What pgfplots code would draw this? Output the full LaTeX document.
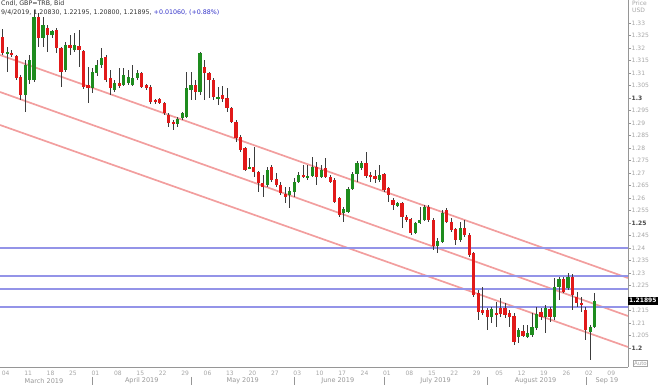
\documentclass[border=0pt]{standalone}
\usepackage{fontspec}
\setmainfont{DejaVu Sans}
\usepackage{pgfplots}
\pgfplotsset{compat=1.18}
\usepackage{pgfplotstable}
\definecolor{upg}{RGB}{30,140,30}
\definecolor{dnr}{RGB}{225,25,25}
\definecolor{wick}{RGB}{60,60,60}
\definecolor{chan}{RGB}{242,158,158}
\definecolor{lev}{RGB}{148,148,232}
\definecolor{tl}{RGB}{165,165,165}
\definecolor{td}{RGB}{70,70,70}
\definecolor{ax}{RGB}{150,150,150}
\definecolor{hdr}{RGB}{50,50,50}
\definecolor{hblue}{RGB}{50,50,200}
\definecolor{mc}{RGB}{150,150,150}
\newcommand{\tf}{\fontsize{6}{7}\selectfont}
\newcommand{\hf}{\fontsize{6.3}{7}\selectfont}
\newcommand{\mf}{\fontsize{6.5}{7}\selectfont}

\pgfplotstableread{
t o h l c
1 1.3244 1.3276 1.3172 1.3180
2 1.3180 1.3204 1.3104 1.3184
3 1.3180 1.3192 1.3164 1.3172
4 1.3168 1.3172 1.3072 1.3080
5 1.3084 1.3092 1.2992 1.3012
6 1.3012 1.3152 1.2944 1.3132
7 1.3072 1.3172 1.3056 1.3152
8 1.3072 1.3352 1.3064 1.3324
9 1.3324 1.3340 1.3204 1.3240
10 1.3240 1.3324 1.3204 1.3292
11 1.3280 1.3292 1.3184 1.3252
12 1.3252 1.3272 1.3240 1.3268
13 1.3272 1.3280 1.3180 1.3200
14 1.3200 1.3204 1.3044 1.3104
15 1.3112 1.3224 1.3104 1.3212
16 1.3212 1.3252 1.3172 1.3200
17 1.3192 1.3260 1.3184 1.3212
18 1.3208 1.3272 1.3124 1.3192
19 1.3188 1.3192 1.3036 1.3044
20 1.3052 1.3124 1.2980 1.3040
21 1.3040 1.3120 1.3020 1.3104
22 1.3100 1.3152 1.3088 1.3132
23 1.3132 1.3200 1.3120 1.3160
24 1.3164 1.3172 1.3064 1.3072
25 1.3080 1.3112 1.3012 1.3040
26 1.3032 1.3072 1.3024 1.3060
27 1.3060 1.3120 1.3040 1.3048
28 1.3052 1.3120 1.3048 1.3092
29 1.3060 1.3112 1.3052 1.3084
30 1.3052 1.3132 1.3048 1.3080
31 1.3080 1.3112 1.3072 1.3100
32 1.3100 1.3104 1.3040 1.3044
33 1.3052 1.3056 1.3032 1.3040
34 1.3044 1.3052 1.2976 1.2984
35 1.2992 1.2996 1.2976 1.2984
36 1.2996 1.3000 1.2976 1.2980
37 1.2980 1.2984 1.2932 1.2940
38 1.2932 1.2940 1.2884 1.2900
39 1.2904 1.2912 1.2872 1.2896
40 1.2896 1.2924 1.2884 1.2916
41 1.2920 1.2944 1.2912 1.2940
42 1.2924 1.3104 1.2920 1.3040
43 1.3032 1.3104 1.2992 1.3052
44 1.3052 1.3072 1.2992 1.3024
45 1.3024 1.3184 1.3012 1.3180
46 1.3124 1.3152 1.2992 1.3100
47 1.3100 1.3104 1.3000 1.3072
48 1.3072 1.3080 1.2992 1.3004
49 1.3000 1.3044 1.2972 1.3004
50 1.3012 1.3048 1.2984 1.2996
51 1.3000 1.3040 1.2944 1.2960
52 1.2960 1.2964 1.2900 1.2904
53 1.2904 1.2912 1.2824 1.2840
54 1.2844 1.2852 1.2784 1.2792
55 1.2800 1.2804 1.2708 1.2712
56 1.2720 1.2760 1.2716 1.2724
57 1.2724 1.2804 1.2684 1.2704
58 1.2704 1.2708 1.2624 1.2660
59 1.2660 1.2692 1.2604 1.2644
60 1.2652 1.2724 1.2644 1.2712
61 1.2724 1.2732 1.2664 1.2672
62 1.2676 1.2700 1.2644 1.2652
63 1.2652 1.2664 1.2612 1.2620
64 1.2616 1.2644 1.2580 1.2604
65 1.2612 1.2644 1.2560 1.2628
66 1.2624 1.2680 1.2604 1.2664
67 1.2664 1.2704 1.2660 1.2692
68 1.2692 1.2732 1.2680 1.2684
69 1.2684 1.2732 1.2672 1.2688
70 1.2688 1.2764 1.2684 1.2724
71 1.2724 1.2744 1.2652 1.2684
72 1.2684 1.2732 1.2680 1.2712
73 1.2720 1.2760 1.2680 1.2684
74 1.2684 1.2692 1.2660 1.2664
75 1.2672 1.2680 1.2580 1.2584
76 1.2600 1.2604 1.2524 1.2532
77 1.2540 1.2564 1.2504 1.2556
78 1.2544 1.2644 1.2540 1.2636
79 1.2636 1.2704 1.2632 1.2696
80 1.2696 1.2748 1.2664 1.2740
81 1.2720 1.2748 1.2712 1.2740
82 1.2740 1.2784 1.2680 1.2688
83 1.2692 1.2704 1.2664 1.2684
84 1.2688 1.2712 1.2660 1.2676
85 1.2672 1.2732 1.2664 1.2692
86 1.2696 1.2700 1.2624 1.2632
87 1.2640 1.2644 1.2584 1.2612
88 1.2592 1.2600 1.2552 1.2572
89 1.2568 1.2584 1.2564 1.2580
90 1.2580 1.2584 1.2480 1.2524
91 1.2524 1.2532 1.2504 1.2512
92 1.2516 1.2520 1.2452 1.2460
93 1.2460 1.2504 1.2456 1.2500
94 1.2500 1.2564 1.2496 1.2512
95 1.2512 1.2572 1.2508 1.2564
96 1.2564 1.2572 1.2504 1.2512
97 1.2512 1.2520 1.2392 1.2408
98 1.2408 1.2440 1.2380 1.2428
99 1.2424 1.2552 1.2420 1.2540
100 1.2552 1.2560 1.2500 1.2504
101 1.2504 1.2520 1.2464 1.2472
102 1.2476 1.2480 1.2412 1.2432
103 1.2432 1.2504 1.2424 1.2480
104 1.2480 1.2512 1.2444 1.2452
105 1.2452 1.2460 1.2364 1.2372
106 1.2380 1.2384 1.2204 1.2212
107 1.2220 1.2232 1.2112 1.2144
108 1.2152 1.2244 1.2132 1.2140
109 1.2152 1.2160 1.2072 1.2124
110 1.2124 1.2164 1.2100 1.2156
111 1.2140 1.2184 1.2084 1.2132
112 1.2160 1.2200 1.2124 1.2136
113 1.2160 1.2180 1.2120 1.2132
114 1.2140 1.2152 1.2084 1.2124
115 1.2128 1.2140 1.2012 1.2024
116 1.2044 1.2080 1.2020 1.2072
117 1.2068 1.2092 1.2044 1.2048
118 1.2044 1.2092 1.2040 1.2060
119 1.2052 1.2140 1.2044 1.2084
120 1.2080 1.2164 1.2072 1.2136
121 1.2144 1.2160 1.2112 1.2124
122 1.2124 1.2172 1.2060 1.2160
123 1.2156 1.2164 1.2104 1.2124
124 1.2124 1.2280 1.2112 1.2244
125 1.2244 1.2284 1.2192 1.2276
126 1.2276 1.2284 1.2220 1.2224
127 1.2240 1.2300 1.2232 1.2284
128 1.2284 1.2296 1.2152 1.2212
129 1.2204 1.2224 1.2164 1.2180
130 1.2180 1.2204 1.2144 1.2172
131 1.2152 1.2164 1.2032 1.2072
132 1.2064 1.2092 1.1952 1.2084
133 1.2083 1.22195 1.2080 1.21895
}\candles

\begin{document}
\begin{tikzpicture}
\begin{axis}[
  at={(0,0)}, anchor=south west,
  scale only axis, width=628pt, height=367pt,
  xmin=0.4, xmax=140.4, ymin=1.1924, ymax=1.3392,
  axis x line*=bottom, axis y line*=right,
  axis line style={-, draw=ax, line width=0.8pt},
  clip=false,
  tick align=outside, major tick length=3pt,
  ytick={1.2,1.205,1.21,1.215,1.22,1.225,1.23,1.235,1.24,1.245,1.25,1.255,1.26,1.265,1.27,1.275,1.28,1.285,1.29,1.295,1.3,1.305,1.31,1.315,1.32,1.325,1.33},
  yticklabels={{\textbf{\textcolor{td}{1.2}}},1.205,1.21,1.215,{},1.225,1.23,1.235,1.24,1.245,{\textbf{\textcolor{td}{1.25}}},1.255,1.26,1.265,1.27,1.275,1.28,1.285,1.29,1.295,{\textbf{\textcolor{td}{1.3}}},1.305,1.31,1.315,1.32,1.325,1.33},
  ytick style={draw=ax, line width=0.6pt},
  yticklabel style={font=\tf, text=tl, anchor=west, inner sep=0.5pt},
  xtick={1,6,...,136},
  xticklabels={04,11,18,25,01,08,15,22,29,06,13,20,27,03,10,17,24,01,08,15,22,29,05,12,19,26,02,09},
  xtick style={draw=none},
  xticklabel style={font=\tf, text=tl, anchor=north, inner sep=0.5pt, xshift=3pt},
]
% channel lines
\addplot[chan, line width=1.7pt] coordinates {(0.4,1.3172) (140.4,1.2280)};
\addplot[chan, line width=1.7pt] coordinates {(0.4,1.3024) (140.4,1.2128)};
\addplot[chan, line width=1.7pt] coordinates {(0.4,1.2892) (140.4,1.2004)};
% horizontal levels
\addplot[lev, line width=1.4pt] coordinates {(0.4,1.2400) (140.4,1.2400)};
\addplot[lev, line width=1.4pt] coordinates {(0.4,1.2288) (140.4,1.2288)};
\addplot[lev, line width=1.4pt] coordinates {(0.4,1.2236) (140.4,1.2236)};
\addplot[lev, line width=1.4pt] coordinates {(0.4,1.2164) (140.4,1.2164)};
% wicks
\addplot[draw=none, mark=none,
  error bars/.cd, y dir=both, y explicit, error mark=none,
  error bar style={draw=wick, line width=0.7pt}]
  table[x=t, y expr={(\thisrow{h}+\thisrow{l})/2}, y error expr={(\thisrow{h}-\thisrow{l})/2}] {\candles};
% up bodies
\addplot[draw=none, mark=none,
  restrict expr to domain={\thisrow{c}-\thisrow{o}}{0:1},
  error bars/.cd, y dir=both, y explicit, error mark=none,
  error bar style={draw=upg, line width=3.2pt}]
  table[x=t, y expr={(\thisrow{o}+\thisrow{c})/2}, y error expr={abs(\thisrow{c}-\thisrow{o})/2}] {\candles};
% down bodies
\addplot[draw=none, mark=none,
  restrict expr to domain={\thisrow{c}-\thisrow{o}}{-1:-0.00001},
  error bars/.cd, y dir=both, y explicit, error mark=none,
  error bar style={draw=dnr, line width=3.2pt}]
  table[x=t, y expr={(\thisrow{o}+\thisrow{c})/2}, y error expr={abs(\thisrow{c}-\thisrow{o})/2}] {\candles};
% month labels
\node[font=\mf, text=mc] at (axis cs:10.2,1.1924) [yshift=-14pt] {March 2019};
\node[font=\mf, text=mc] at (axis cs:32.0,1.1924) [yshift=-14pt] {April 2019};
\node[font=\mf, text=mc] at (axis cs:54.5,1.1924) [yshift=-14pt] {May 2019};
\node[font=\mf, text=mc] at (axis cs:75.7,1.1924) [yshift=-14pt] {June 2019};
\node[font=\mf, text=mc] at (axis cs:97.5,1.1924) [yshift=-14pt] {July 2019};
\node[font=\mf, text=mc] at (axis cs:119.8,1.1924) [yshift=-14pt] {August 2019};
\node[font=\mf, text=mc] at (axis cs:135.7,1.1924) [yshift=-14pt] {Sep 19};
\draw[ax, line width=0.5pt] ([yshift=-10pt]axis cs:21,1.1924) -- ([yshift=-18pt]axis cs:21,1.1924);
\draw[ax, line width=0.5pt] ([yshift=-10pt]axis cs:43,1.1924) -- ([yshift=-18pt]axis cs:43,1.1924);
\draw[ax, line width=0.5pt] ([yshift=-10pt]axis cs:66,1.1924) -- ([yshift=-18pt]axis cs:66,1.1924);
\draw[ax, line width=0.5pt] ([yshift=-10pt]axis cs:86,1.1924) -- ([yshift=-18pt]axis cs:86,1.1924);
\draw[ax, line width=0.5pt] ([yshift=-10pt]axis cs:109,1.1924) -- ([yshift=-18pt]axis cs:109,1.1924);
\draw[ax, line width=0.5pt] ([yshift=-10pt]axis cs:131,1.1924) -- ([yshift=-18pt]axis cs:131,1.1924);
% current price box
\node[fill=black, text=white, font=\bfseries\tf, anchor=west, inner sep=1pt, minimum height=8pt] at (axis cs:140.4,1.21895) {1.21895};
\end{axis}
% header texts
\node[anchor=west, font=\hf, text=hdr, inner sep=0] at (1pt,363.5pt) {Cndl, GBP=TRB, Bid};
\node[anchor=west, font=\hf, text=hdr, inner sep=0] at (1pt,354.5pt) {9/4/2019, 1.20830, 1.22195, 1.20800, 1.21895, \textcolor{hblue}{+0.01060, (+0.88\%)}};
\node[anchor=west, font=\tf, text=tl, inner sep=0] at (632pt,364pt) {Price};
\node[anchor=west, font=\tf, text=tl, inner sep=0] at (632pt,356.5pt) {USD};
\node[anchor=west, font=\fontsize{5.5}{6}\selectfont, text=tl, draw=tl, line width=0.5pt, inner sep=0.8pt] at (633pt,3.8pt) {Auto};
\pgfresetboundingbox
\path[use as bounding box] (0pt,-20pt) rectangle (660pt,367pt);
\end{tikzpicture}
\end{document}
